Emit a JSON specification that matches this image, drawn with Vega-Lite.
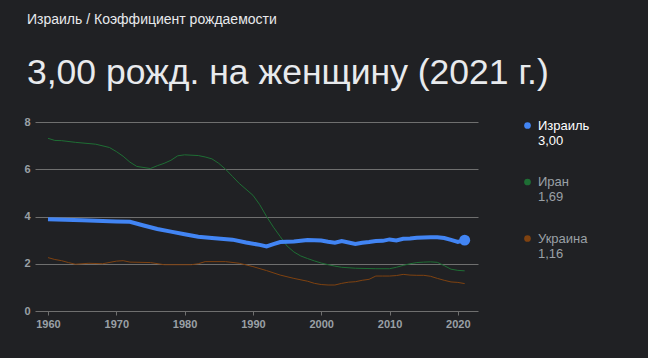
{
  "$schema": "https://vega.github.io/schema/vega-lite/v6.json",
  "width": 443,
  "height": 189,
  "autosize": {"type": "none"},
  "padding": {"left": 35, "top": 122, "right": 170, "bottom": 47},
  "background": "#202124",
  "title": {
    "text": "Израиль / Коэффициент рождаемости",
    "subtitle": "3,00 рожд. на женщину (2021 г.)",
    "anchor": "start",
    "frame": "group",
    "dx": -8,
    "offset": 25,
    "font": "Liberation Sans",
    "fontSize": 14,
    "fontWeight": "normal",
    "color": "#e8eaed",
    "subtitleFont": "Liberation Sans",
    "subtitleFontSize": 35.5,
    "subtitleColor": "#e8eaed",
    "subtitlePadding": 29
  },
  "config": {
    "view": {"stroke": null},
    "axis": {
      "labelFont": "Liberation Sans",
      "labelFontSize": 11,
      "labelFontWeight": "bold",
      "labelColor": "#9aa0a6",
      "title": null
    }
  },
  "data": {
    "values": [
      {"country": "Израиль", "year": 1960, "value": 3.88},
      {"country": "Израиль", "year": 1965, "value": 3.84},
      {"country": "Израиль", "year": 1970, "value": 3.79},
      {"country": "Израиль", "year": 1972, "value": 3.78},
      {"country": "Израиль", "year": 1974, "value": 3.62},
      {"country": "Израиль", "year": 1976, "value": 3.47},
      {"country": "Израиль", "year": 1978, "value": 3.36},
      {"country": "Израиль", "year": 1980, "value": 3.25},
      {"country": "Израиль", "year": 1982, "value": 3.14},
      {"country": "Израиль", "year": 1984, "value": 3.09},
      {"country": "Израиль", "year": 1987, "value": 3.02},
      {"country": "Израиль", "year": 1989, "value": 2.9},
      {"country": "Израиль", "year": 1991, "value": 2.8},
      {"country": "Израиль", "year": 1992, "value": 2.73},
      {"country": "Израиль", "year": 1993, "value": 2.83},
      {"country": "Израиль", "year": 1994, "value": 2.92},
      {"country": "Израиль", "year": 1996, "value": 2.94},
      {"country": "Израиль", "year": 1998, "value": 3.0},
      {"country": "Израиль", "year": 2000, "value": 2.98},
      {"country": "Израиль", "year": 2001, "value": 2.93},
      {"country": "Израиль", "year": 2002, "value": 2.89},
      {"country": "Израиль", "year": 2003, "value": 2.96},
      {"country": "Израиль", "year": 2004, "value": 2.9},
      {"country": "Израиль", "year": 2005, "value": 2.84},
      {"country": "Израиль", "year": 2006, "value": 2.89},
      {"country": "Израиль", "year": 2007, "value": 2.92},
      {"country": "Израиль", "year": 2008, "value": 2.96},
      {"country": "Израиль", "year": 2009, "value": 2.97},
      {"country": "Израиль", "year": 2010, "value": 3.03},
      {"country": "Израиль", "year": 2011, "value": 2.99},
      {"country": "Израиль", "year": 2012, "value": 3.06},
      {"country": "Израиль", "year": 2013, "value": 3.07},
      {"country": "Израиль", "year": 2014, "value": 3.1},
      {"country": "Израиль", "year": 2015, "value": 3.11},
      {"country": "Израиль", "year": 2016, "value": 3.12},
      {"country": "Израиль", "year": 2017, "value": 3.12},
      {"country": "Израиль", "year": 2018, "value": 3.09},
      {"country": "Израиль", "year": 2019, "value": 3.01},
      {"country": "Израиль", "year": 2020, "value": 2.92},
      {"country": "Израиль", "year": 2021, "value": 3.0},
      {"country": "Иран", "year": 1960, "value": 7.31},
      {"country": "Иран", "year": 1961, "value": 7.22},
      {"country": "Иран", "year": 1962, "value": 7.21},
      {"country": "Иран", "year": 1964, "value": 7.14},
      {"country": "Иран", "year": 1967, "value": 7.06},
      {"country": "Иран", "year": 1969, "value": 6.92},
      {"country": "Иран", "year": 1970, "value": 6.75},
      {"country": "Иран", "year": 1971, "value": 6.55},
      {"country": "Иран", "year": 1972, "value": 6.3},
      {"country": "Иран", "year": 1973, "value": 6.12},
      {"country": "Иран", "year": 1975, "value": 6.03},
      {"country": "Иран", "year": 1976, "value": 6.15},
      {"country": "Иран", "year": 1977, "value": 6.25},
      {"country": "Иран", "year": 1978, "value": 6.38},
      {"country": "Иран", "year": 1979, "value": 6.57},
      {"country": "Иран", "year": 1980, "value": 6.61},
      {"country": "Иран", "year": 1982, "value": 6.58},
      {"country": "Иран", "year": 1983, "value": 6.52},
      {"country": "Иран", "year": 1984, "value": 6.44},
      {"country": "Иран", "year": 1985, "value": 6.25},
      {"country": "Иран", "year": 1986, "value": 6.0},
      {"country": "Иран", "year": 1987, "value": 5.7},
      {"country": "Иран", "year": 1988, "value": 5.4},
      {"country": "Иран", "year": 1990, "value": 4.9},
      {"country": "Иран", "year": 1991, "value": 4.5},
      {"country": "Иран", "year": 1992, "value": 4.0},
      {"country": "Иран", "year": 1993, "value": 3.55},
      {"country": "Иран", "year": 1994, "value": 3.15},
      {"country": "Иран", "year": 1995, "value": 2.75},
      {"country": "Иран", "year": 1996, "value": 2.5},
      {"country": "Иран", "year": 1997, "value": 2.33},
      {"country": "Иран", "year": 1998, "value": 2.22},
      {"country": "Иран", "year": 1999, "value": 2.12},
      {"country": "Иран", "year": 2000, "value": 2.03},
      {"country": "Иран", "year": 2001, "value": 1.96},
      {"country": "Иран", "year": 2002, "value": 1.9},
      {"country": "Иран", "year": 2003, "value": 1.85},
      {"country": "Иран", "year": 2005, "value": 1.81},
      {"country": "Иран", "year": 2008, "value": 1.79},
      {"country": "Иран", "year": 2010, "value": 1.79},
      {"country": "Иран", "year": 2011, "value": 1.85},
      {"country": "Иран", "year": 2012, "value": 1.93},
      {"country": "Иран", "year": 2013, "value": 2.0},
      {"country": "Иран", "year": 2014, "value": 2.05},
      {"country": "Иран", "year": 2015, "value": 2.07},
      {"country": "Иран", "year": 2016, "value": 2.08},
      {"country": "Иран", "year": 2017, "value": 2.06},
      {"country": "Иран", "year": 2018, "value": 1.92},
      {"country": "Иран", "year": 2019, "value": 1.77},
      {"country": "Иран", "year": 2020, "value": 1.72},
      {"country": "Иран", "year": 2021, "value": 1.7},
      {"country": "Украина", "year": 1960, "value": 2.26},
      {"country": "Украина", "year": 1961, "value": 2.18},
      {"country": "Украина", "year": 1962, "value": 2.13},
      {"country": "Украина", "year": 1963, "value": 2.05},
      {"country": "Украина", "year": 1964, "value": 1.98},
      {"country": "Украина", "year": 1966, "value": 2.02},
      {"country": "Украина", "year": 1968, "value": 2.0},
      {"country": "Украина", "year": 1970, "value": 2.11},
      {"country": "Украина", "year": 1971, "value": 2.13},
      {"country": "Украина", "year": 1972, "value": 2.07},
      {"country": "Украина", "year": 1975, "value": 2.05},
      {"country": "Украина", "year": 1977, "value": 1.96},
      {"country": "Украина", "year": 1981, "value": 1.96},
      {"country": "Украина", "year": 1982, "value": 2.0},
      {"country": "Украина", "year": 1983, "value": 2.09},
      {"country": "Украина", "year": 1986, "value": 2.09},
      {"country": "Украина", "year": 1988, "value": 2.02},
      {"country": "Украина", "year": 1990, "value": 1.88},
      {"country": "Украина", "year": 1992, "value": 1.71},
      {"country": "Украина", "year": 1994, "value": 1.52},
      {"country": "Украина", "year": 1996, "value": 1.38},
      {"country": "Украина", "year": 1998, "value": 1.26},
      {"country": "Украина", "year": 1999, "value": 1.17},
      {"country": "Украина", "year": 2000, "value": 1.12},
      {"country": "Украина", "year": 2001, "value": 1.1},
      {"country": "Украина", "year": 2002, "value": 1.1},
      {"country": "Украина", "year": 2003, "value": 1.17},
      {"country": "Украина", "year": 2004, "value": 1.22},
      {"country": "Украина", "year": 2005, "value": 1.24},
      {"country": "Украина", "year": 2006, "value": 1.3},
      {"country": "Украина", "year": 2007, "value": 1.34},
      {"country": "Украина", "year": 2008, "value": 1.48},
      {"country": "Украина", "year": 2009, "value": 1.48},
      {"country": "Украина", "year": 2010, "value": 1.48},
      {"country": "Украина", "year": 2011, "value": 1.5},
      {"country": "Украина", "year": 2012, "value": 1.55},
      {"country": "Украина", "year": 2013, "value": 1.52},
      {"country": "Украина", "year": 2014, "value": 1.51},
      {"country": "Украина", "year": 2015, "value": 1.51},
      {"country": "Украина", "year": 2016, "value": 1.47},
      {"country": "Украина", "year": 2017, "value": 1.38},
      {"country": "Украина", "year": 2018, "value": 1.3},
      {"country": "Украина", "year": 2019, "value": 1.23},
      {"country": "Украина", "year": 2020, "value": 1.21},
      {"country": "Украина", "year": 2021, "value": 1.16}
    ]
  },
  "encoding": {
    "x": {
      "field": "year",
      "type": "quantitative",
      "scale": {"domain": [1958.1, 2022.95], "nice": false, "zero": false},
      "axis": {
        "values": [1960, 1970, 1980, 1990, 2000, 2010, 2020],
        "format": "d",
        "grid": false,
        "domain": false,
        "ticks": true,
        "tickColor": "#6f6f6f",
        "tickSize": 4,
        "labelPadding": 3
      }
    },
    "y": {
      "field": "value",
      "type": "quantitative",
      "scale": {"domain": [0, 8], "nice": false},
      "axis": {
        "values": [0, 2, 4, 6, 8],
        "grid": true,
        "gridColor": "#6f6f6f",
        "domain": false,
        "ticks": false,
        "labelPadding": 5
      }
    },
    "color": {
      "field": "country",
      "type": "nominal",
      "scale": {
        "domain": ["Израиль", "Иран", "Украина"],
        "range": ["#4285f4", "#1e6e34", "#7f4210"]
      },
      "legend": {
        "title": null,
        "orient": "none",
        "legendX": 486,
        "legendY": -3,
        "symbolType": "circle",
        "symbolSize": 45,
        "symbolStrokeWidth": 0,
        "labelFont": "Liberation Sans",
        "labelFontSize": 13,
        "labelColor": "#9aa0a6",
        "labelOffset": 4,
        "rowPadding": 27.5,
        "labelExpr": "[datum.label, datum.label == 'Израиль' ? '3,00' : datum.label == 'Иран' ? '1,69' : '1,16']",
        "encode": {
          "symbols": {"update": {"fill": {"signal": "scale('color', datum.value)"}, "opacity": {"value": 1}}},
          "labels": {"update": {
            "fill": {"signal": "datum.value == 'Израиль' ? '#ffffff' : '#9aa0a6'"}
          }}
        }
      }
    }
  },
  "layer": [
    {
      "transform": [{"filter": "datum.country != 'Израиль'"}],
      "mark": {"type": "line", "strokeWidth": 1}
    },
    {
      "transform": [{"filter": "datum.country == 'Израиль'"}],
      "mark": {"type": "line", "strokeWidth": 4}
    },
    {
      "transform": [{"filter": "datum.country == 'Израиль' && datum.year == 2021"}],
      "mark": {"type": "point", "filled": true, "size": 120, "opacity": 1}
    }
  ]
}
